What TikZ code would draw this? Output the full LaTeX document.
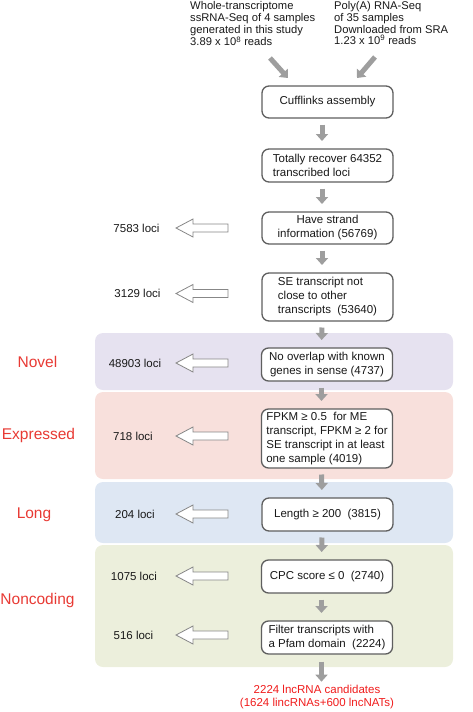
\documentclass[tikz,border=0pt]{standalone}
\usepackage{fontspec}
\setmainfont{Liberation Sans}
\usetikzlibrary{arrows.meta,calc}
\definecolor{boxline}{RGB}{95,95,95}
\definecolor{arrgray}{RGB}{158,158,158}
\definecolor{holline}{RGB}{135,135,135}
\definecolor{txt}{RGB}{25,25,25}
\definecolor{lblred}{RGB}{232,58,52}
\definecolor{resred}{RGB}{240,28,28}
\definecolor{bandnovel}{RGB}{230,226,240}
\definecolor{bandexpr}{RGB}{248,224,220}
\definecolor{bandlong}{RGB}{222,231,243}
\definecolor{bandnon}{RGB}{236,239,220}
\begin{document}
\begin{tikzpicture}[x=1pt,y=-1pt,
  stepbox/.style={draw=boxline, line width=1.3pt, rounded corners=7pt, fill=white,
    minimum width=131pt, inner sep=2pt, outer sep=0pt, align=left, text=txt,
    font=\fontsize{11.5}{14}\selectfont},
  srctext/.style={anchor=north west, inner sep=0pt, align=left, text=txt,
    font=\fontsize{11.2}{11.7}\selectfont},
  locitext/.style={inner sep=0pt, text=txt, font=\fontsize{11.5}{14}\selectfont},
  bandlabel/.style={inner sep=0pt, text=lblred, font=\fontsize{15.5}{18}\selectfont},
  band/.style={rounded corners=8pt, draw=none},
  downarr/.style={draw=arrgray, line width=5pt, -{Triangle[width=12pt,length=7pt]},
    shorten <=6.5pt, shorten >=8pt},
  hollowarr/.style={draw=holline, line width=0.8pt, fill=white, line join=miter,
    to path={let \p1=(\tikztostart), \p2=(\tikztotarget) in
      (\x1,\y1+4pt) -- (\x2+17pt,\y1+4pt) -- (\x2+17pt,\y1+9pt) -- (\x2,\y1)
      -- (\x2+17pt,\y1-9pt) -- (\x2+17pt,\y1-4pt) -- (\x1,\y1-4pt) -- cycle}}
]
\useasboundingbox (0,0) rectangle (472,712);

% bands
\fill[band, bandnovel] (95,333) rectangle (453,390);
\fill[band, bandexpr] (95,392) rectangle (453,479);
\fill[band, bandlong] (95,482) rectangle (453,543);
\fill[band, bandnon] (95,545) rectangle (453,667);

% band labels
\node[bandlabel] (lnovel) at (37.5,362) {Novel};
\node[bandlabel] (lexpr) at (38.5,435) {Expressed};
\node[bandlabel] (llong) at (34,515) {Long};
\node[bandlabel] (lnon) at (37.5,600) {Noncoding};

% source texts
\node[srctext] (src1) at (190,1.5) {Whole-transcriptome\\ssRNA-Seq of 4 samples\\generated in this study\\3.89 x 10\textsuperscript{8} reads};
\node[srctext] (src2) at (334,1.5) {Poly(A) RNA-Seq\\of 35 samples\\Downloaded from SRA\\1.23 x 10\textsuperscript{9} reads};

% boxes
\node[stepbox, minimum height=32pt, align=center] (b1) at (327.5,102) {Cufflinks assembly};
\node[stepbox, minimum height=33pt] (b2) at (327.5,165.5) {Totally recover 64352\\transcribed loci};
\node[stepbox, minimum height=32pt, align=center] (b3) at (327.5,228) {Have strand\\information (56769)};
\node[stepbox, minimum height=48pt] (b4) at (327.5,297) {SE transcript not\\close to other\\transcripts~~(53640)};
\node[stepbox, minimum height=33pt, align=center] (b5) at (327,364.5) {No overlap with known\\genes in sense (4737)};
\node[stepbox, minimum height=59pt] (b6) at (327,438.5) {FPKM ≥ 0.5~~for ME\\transcript, FPKM ≥ 2 for\\SE transcript in at least\\one sample (4019)};
\node[stepbox, minimum height=33pt, align=center] (b7) at (327.5,514.5) {Length ≥ 200~~(3815)};
\node[stepbox, minimum height=33pt, align=center] (b8) at (327,576.5) {CPC score ≤ 0~~(2740)};
\node[stepbox, minimum height=33pt] (b9) at (327,637.5) {Filter transcripts with\\a Pfam domain~~(2224)};

\node[inner sep=0pt, align=center, text=resred, font=\fontsize{11.5}{13.5}\selectfont] (res) at (317,697) {2224 lncRNA candidates\\(1624 lincRNAs+600 lncNATs)};

% loci labels
\node[locitext] (l3) at (136.5,228) {7583 loci};
\node[locitext] (l4) at (137.5,293.5) {3129 loci};
\node[locitext] (l5) at (135,363) {48903 loci};
\node[locitext] (l6) at (133,436) {718 loci};
\node[locitext] (l7) at (135,514) {204 loci};
\node[locitext] (l8) at (134,576) {1075 loci};
\node[locitext] (l9) at (133.5,635) {516 loci};

% diagonal arrows
\coordinate (d1s) at (270,58);
\coordinate (d1e) at (288,78);
\coordinate (d2s) at (375,57);
\coordinate (d2e) at (357,78);
\draw[downarr, shorten <=0pt, shorten >=0pt] (d1s) -- (d1e);
\draw[downarr, shorten <=0pt, shorten >=0pt] (d2s) -- (d2e);

% down arrows
\foreach \a/\b in {b1/b2,b2/b3,b3/b4,b4/b5,b5/b6,b6/b7,b7/b8,b8/b9}{
  \draw[downarr] ([xshift=-5.5pt]\a.south) -- ([xshift=-5.5pt]\b.north);
}
\draw[downarr, shorten <=7.5pt, shorten >=3pt] ([xshift=-5.5pt]b9.south) -- ([xshift=-5.5pt]b9.south |- res.north);

% hollow arrows
\coordinate (tipx) at (176,0);
\coordinate (tailx) at (228,0);
\foreach \l in {l3,l4,l5,l6,l7,l8,l9}{
  \draw[hollowarr] (\l -| tailx) to (\l -| tipx);
}
\end{tikzpicture}
\end{document}
